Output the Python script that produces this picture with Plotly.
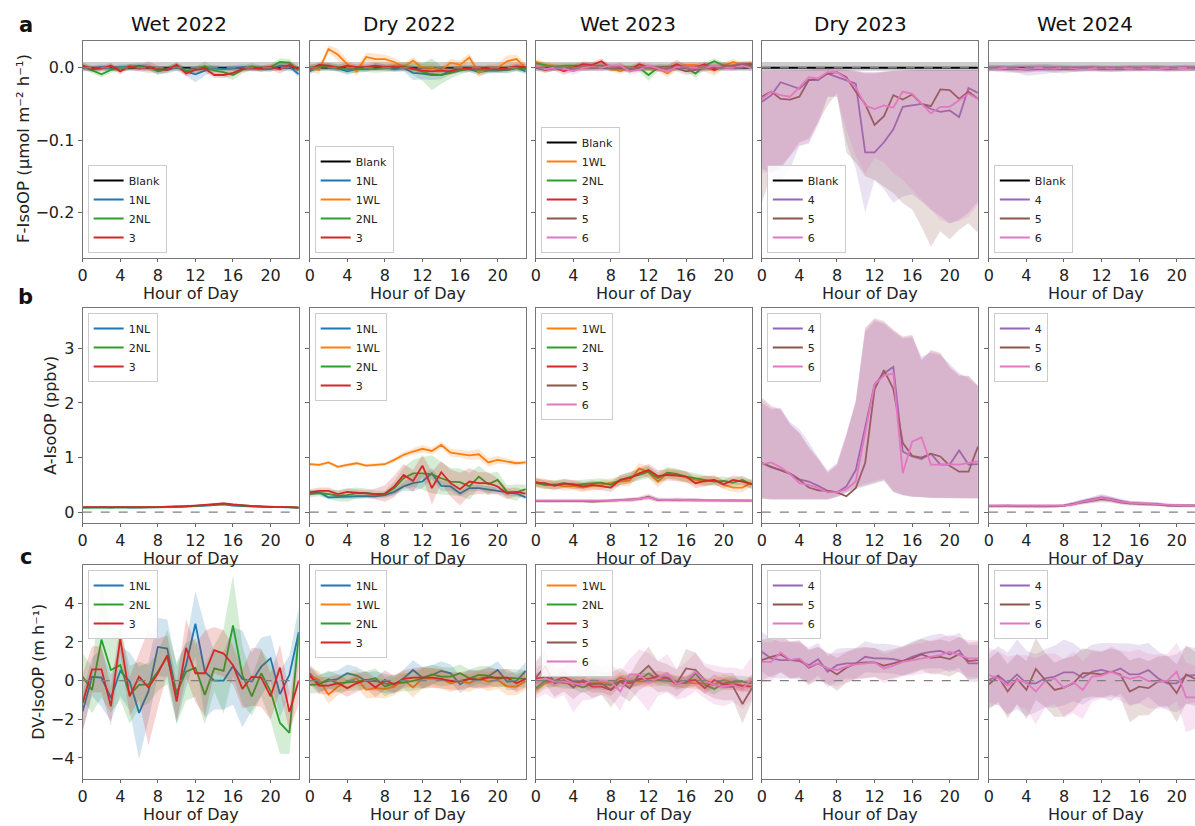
import plotly.graph_objects as go

W, H = 1195, 826

# ---------------- data ----------------
titles = ["Wet 2022", "Dry 2022", "Wet 2023", "Dry 2023", "Wet 2024"]
xticks = [0, 4, 8, 12, 16, 20]

blank_mean = [0.0, 0.0, 0.0, 0.0, 0.0, 0.0, 0.0, 0.0, 0.0, 0.0, 0.0, 0.0, 0.0, 0.0, 0.0, 0.0, 0.0, 0.0, 0.0, 0.0, 0.0, 0.0, 0.0, 0.0]
blank_lo = [-0.004, -0.004, -0.004, -0.004, -0.004, -0.004, -0.004, -0.004, -0.004, -0.004, -0.004, -0.004, -0.004, -0.004, -0.004, -0.004, -0.004, -0.004, -0.004, -0.004, -0.004, -0.004, -0.004, -0.004]
blank_hi = [0.008, 0.008, 0.008, 0.008, 0.008, 0.008, 0.008, 0.008, 0.008, 0.008, 0.008, 0.008, 0.008, 0.008, 0.008, 0.008, 0.008, 0.008, 0.008, 0.008, 0.008, 0.008, 0.008, 0.008]

# Row a : F-IsoOP
a_w22_1NL = [0.000,-0.001,0.001,-0.001,0.001,0.001,0.003,0.001,-0.004,-0.003,0.001,-0.005,-0.009,-0.004,-0.001,-0.002,-0.001,0.001,-0.001,-0.002,-0.002,0.003,0.002,-0.009]
a_w22_1NL_sd = [0.004,0.004,0.004,0.003,0.004,0.004,0.004,0.004,0.005,0.005,0.005,0.006,0.011,0.007,0.005,0.004,0.004,0.004,0.004,0.004,0.004,0.004,0.004,0.004]
a_w22_2NL = [0.002,-0.003,-0.009,-0.003,-0.001,0.001,0.001,0.001,-0.005,-0.002,0.003,-0.004,-0.003,0.002,-0.004,-0.006,-0.010,-0.003,0.002,-0.001,0.001,0.008,0.007,-0.004]
a_w22_2NL_sd = [0.004,0.004,0.004,0.004,0.004,0.004,0.004,0.004,0.005,0.004,0.004,0.004,0.004,0.007,0.005,0.006,0.007,0.005,0.005,0.004,0.004,0.005,0.005,0.004]
a_w22_3 = [0.003,-0.002,-0.001,0.003,-0.005,0.002,-0.001,0.001,-0.002,-0.003,0.004,-0.008,-0.003,-0.001,-0.010,-0.010,-0.007,-0.002,0.000,-0.001,0.001,-0.002,0.004,-0.002]
a_w22_3_sd = [0.005,0.004,0.004,0.004,0.004,0.004,0.004,0.008,0.005,0.004,0.004,0.004,0.004,0.005,0.004,0.004,0.004,0.004,0.004,0.004,0.004,0.006,0.005,0.004]

a_d22_1NL = [-0.005,0.002,0.001,-0.001,-0.005,-0.002,-0.002,0.002,0.001,-0.002,0.000,-0.007,-0.008,-0.010,-0.010,-0.004,-0.003,-0.002,-0.006,-0.004,-0.004,-0.003,0.000,-0.005]
a_d22_1NL_sd = [0.004,0.004,0.004,0.004,0.005,0.004,0.004,0.004,0.004,0.004,0.005,0.010,0.008,0.007,0.006,0.005,0.004,0.004,0.005,0.004,0.004,0.004,0.004,0.004]
a_d22_1WL = [0.000,-0.003,0.026,0.018,0.005,-0.005,0.015,0.012,0.012,0.008,0.001,0.010,0.000,0.000,-0.003,0.007,0.004,0.014,-0.007,-0.001,0.000,0.009,0.012,0.000]
a_d22_1WL_sd = [0.006,0.006,0.005,0.008,0.006,0.006,0.006,0.007,0.006,0.006,0.005,0.005,0.005,0.005,0.005,0.005,0.006,0.006,0.006,0.005,0.006,0.008,0.006,0.006]
a_d22_2NL = [0.000,0.001,0.002,0.000,-0.002,-0.002,-0.001,-0.002,-0.001,0.000,0.002,-0.002,-0.006,-0.009,-0.010,-0.007,-0.003,-0.001,-0.003,-0.002,-0.002,-0.003,0.000,-0.002]
a_d22_2NL_sd = [0.005,0.005,0.005,0.005,0.006,0.005,0.005,0.005,0.005,0.005,0.006,0.008,0.012,0.022,0.012,0.008,0.006,0.005,0.005,0.005,0.005,0.005,0.005,0.005]
a_d22_3 = [-0.002,0.004,0.003,0.000,0.003,0.001,0.001,0.003,0.001,0.002,0.001,-0.002,-0.004,-0.005,-0.004,-0.005,-0.001,-0.001,0.000,-0.001,-0.002,-0.001,0.002,0.001]
a_d22_3_sd = [0.004,0.004,0.004,0.004,0.004,0.004,0.004,0.004,0.004,0.004,0.004,0.004,0.005,0.005,0.005,0.005,0.004,0.004,0.004,0.004,0.004,0.004,0.004,0.004]

a_w23_1WL = [0.008,0.004,0.003,0.001,0.001,0.000,0.001,0.003,-0.001,-0.005,0.000,0.000,0.000,-0.001,-0.008,0.001,0.004,0.004,0.000,-0.003,0.003,0.008,0.004,0.006]
a_w23_2NL = [0.006,0.003,0.001,0.003,0.003,0.004,0.004,0.003,0.000,-0.001,0.000,0.000,-0.010,0.000,0.000,0.004,0.000,-0.008,0.003,0.009,0.003,0.001,0.001,0.003]
a_w23_3 = [0.003,-0.003,0.000,-0.005,0.000,0.005,0.004,0.009,-0.001,0.003,-0.003,0.005,0.001,-0.001,-0.001,0.005,0.000,0.001,0.005,-0.003,0.003,0.001,0.004,0.005]
a_w23_5 = [0.000,-0.003,0.000,-0.001,-0.001,0.000,0.001,0.001,0.001,0.000,-0.003,0.000,0.000,0.001,0.001,-0.001,-0.005,-0.003,-0.001,0.001,0.001,0.003,0.005,0.004]
a_w23_6 = [0.003,-0.002,0.000,-0.001,-0.005,0.000,0.001,0.000,0.003,0.003,-0.005,-0.003,0.003,-0.001,-0.005,0.001,0.000,0.000,0.000,0.003,0.000,0.000,0.003,-0.001]
a_w23_1WL_sd = [0.004,0.004,0.004,0.004,0.004,0.004,0.004,0.004,0.004,0.004,0.004,0.004,0.004,0.004,0.005,0.004,0.004,0.004,0.005,0.008,0.005,0.004,0.004,0.004]
a_w23_2NL_sd = [0.004,0.004,0.004,0.004,0.004,0.004,0.004,0.004,0.004,0.004,0.004,0.005,0.008,0.005,0.004,0.004,0.005,0.006,0.004,0.004,0.004,0.004,0.004,0.004]
a_w23_3_sd = [0.004,0.004,0.004,0.005,0.004,0.004,0.004,0.004,0.004,0.004,0.004,0.004,0.004,0.004,0.004,0.006,0.004,0.004,0.004,0.004,0.004,0.004,0.004,0.004]
a_w23_5_sd = [0.004,0.004,0.004,0.004,0.004,0.004,0.004,0.004,0.004,0.004,0.004,0.004,0.004,0.004,0.004,0.004,0.005,0.004,0.004,0.004,0.004,0.004,0.004,0.004]
a_w23_6_sd = [0.004,0.004,0.004,0.004,0.005,0.004,0.004,0.004,0.004,0.004,0.005,0.004,0.004,0.004,0.004,0.004,0.004,0.004,0.004,0.004,0.004,0.004,0.004,0.004]

a_d23_4 = [-0.047,-0.038,-0.020,-0.024,-0.029,-0.017,-0.017,-0.008,-0.013,-0.017,-0.022,-0.117,-0.117,-0.103,-0.085,-0.054,-0.052,-0.050,-0.057,-0.061,-0.059,-0.068,-0.028,-0.035]
a_d23_4_lo = [-0.140,-0.145,-0.161,-0.140,-0.108,-0.105,-0.075,-0.040,-0.040,-0.103,-0.140,-0.200,-0.155,-0.168,-0.187,-0.178,-0.175,-0.185,-0.196,-0.205,-0.215,-0.210,-0.200,-0.185]
a_d23_4_hi = [-0.004,-0.004,-0.003,-0.003,-0.003,-0.003,-0.002,-0.002,-0.002,-0.003,-0.004,-0.006,-0.006,-0.005,-0.004,-0.004,-0.003,-0.003,-0.003,-0.003,-0.003,-0.003,-0.003,-0.003]
a_d23_5 = [-0.040,-0.033,-0.043,-0.044,-0.040,-0.017,-0.015,-0.008,-0.006,-0.013,-0.033,-0.050,-0.079,-0.067,-0.038,-0.044,-0.037,-0.050,-0.053,-0.030,-0.031,-0.043,-0.033,-0.043]
a_d23_5_lo = [-0.187,-0.145,-0.140,-0.122,-0.103,-0.098,-0.075,-0.052,-0.035,-0.117,-0.131,-0.150,-0.155,-0.164,-0.173,-0.187,-0.196,-0.220,-0.247,-0.226,-0.237,-0.224,-0.215,-0.228]
a_d23_5_hi = [-0.004,-0.004,-0.004,-0.003,-0.003,-0.003,-0.002,-0.002,-0.002,-0.003,-0.005,-0.008,-0.008,-0.006,-0.004,-0.004,-0.003,-0.003,-0.003,-0.003,-0.003,-0.003,-0.003,-0.003]
a_d23_6 = [-0.043,-0.033,-0.038,-0.040,-0.027,-0.013,-0.015,-0.006,-0.006,-0.015,-0.027,-0.052,-0.057,-0.052,-0.055,-0.033,-0.036,-0.050,-0.063,-0.054,-0.054,-0.045,-0.036,-0.043]
a_d23_6_lo = [-0.145,-0.145,-0.136,-0.122,-0.108,-0.103,-0.080,-0.040,-0.040,-0.085,-0.122,-0.147,-0.124,-0.131,-0.145,-0.155,-0.168,-0.182,-0.196,-0.210,-0.215,-0.212,-0.206,-0.189]
a_d23_6_hi = [-0.004,-0.004,-0.003,-0.003,-0.003,-0.002,-0.002,-0.001,-0.001,-0.003,-0.004,-0.007,-0.007,-0.005,-0.004,-0.004,-0.003,-0.003,-0.003,-0.003,-0.003,-0.003,-0.003,-0.003]

a_w24_4 = [0.000,-0.001,-0.002,-0.001,-0.003,-0.002,-0.002,-0.001,-0.002,-0.001,0.000,-0.001,-0.002,-0.001,-0.002,-0.001,-0.001,0.000,-0.001,-0.001,0.000,-0.001,0.000]
a_w24_4_sd = [0.004,0.004,0.005,0.006,0.008,0.008,0.007,0.006,0.006,0.005,0.004,0.004,0.004,0.004,0.004,0.004,0.004,0.004,0.004,0.004,0.004,0.004,0.004]
a_w24_5 = [-0.001,0.000,-0.001,-0.002,-0.001,-0.001,0.000,-0.002,-0.001,-0.002,-0.001,0.000,-0.001,-0.002,-0.001,0.000,-0.001,-0.001,0.000,-0.002,-0.001,0.000,-0.001]
a_w24_5_sd = [0.004,0.004,0.004,0.005,0.005,0.005,0.005,0.005,0.004,0.004,0.004,0.004,0.004,0.004,0.004,0.004,0.004,0.004,0.004,0.004,0.004,0.004,0.004]
a_w24_6 = [0.000,-0.001,0.000,-0.001,-0.002,0.000,-0.001,-0.001,0.000,-0.001,-0.002,-0.001,0.000,-0.001,0.000,-0.001,0.000,-0.001,-0.001,0.000,-0.001,-0.001,0.000]
a_w24_6_sd = [0.004,0.004,0.004,0.004,0.005,0.004,0.004,0.004,0.004,0.004,0.004,0.004,0.004,0.004,0.004,0.004,0.004,0.004,0.004,0.004,0.004,0.004,0.004]

# Row b : A-IsoOP
b_w22_1NL = [0.08,0.09,0.09,0.08,0.09,0.08,0.08,0.08,0.09,0.09,0.10,0.10,0.11,0.12,0.13,0.14,0.12,0.11,0.10,0.10,0.09,0.09,0.08,0.08]
b_w22_2NL = [0.08,0.08,0.08,0.08,0.08,0.08,0.08,0.08,0.09,0.09,0.09,0.10,0.11,0.12,0.13,0.15,0.13,0.12,0.11,0.10,0.10,0.09,0.09,0.08]
b_w22_3 = [0.09,0.09,0.09,0.08,0.09,0.09,0.08,0.08,0.09,0.10,0.10,0.11,0.12,0.13,0.14,0.16,0.14,0.12,0.11,0.10,0.10,0.09,0.09,0.08]
b_w22_sd = [0.015,0.015,0.015,0.015,0.015,0.015,0.015,0.015,0.015,0.015,0.02,0.02,0.02,0.02,0.025,0.025,0.02,0.02,0.02,0.015,0.015,0.015,0.015,0.015]

b_d22_1NL = [0.36,0.36,0.27,0.28,0.29,0.29,0.29,0.29,0.31,0.37,0.47,0.53,0.56,0.71,0.48,0.47,0.34,0.44,0.44,0.42,0.39,0.36,0.34,0.27]
b_d22_1NL_sd = [0.04,0.04,0.04,0.04,0.04,0.04,0.04,0.04,0.05,0.06,0.08,0.15,0.12,0.10,0.10,0.08,0.06,0.06,0.06,0.06,0.06,0.06,0.05,0.04]
b_d22_1WL = [0.88,0.865,0.91,0.83,0.865,0.895,0.85,0.865,0.877,0.957,1.05,1.11,1.16,1.12,1.23,1.09,1.07,1.04,1.06,0.91,0.957,0.926,0.895,0.91]
b_d22_1WL_sd = [0.03,0.03,0.03,0.03,0.03,0.03,0.03,0.03,0.03,0.04,0.05,0.06,0.07,0.06,0.06,0.07,0.07,0.08,0.09,0.08,0.07,0.05,0.04,0.04]
b_d22_2NL = [0.33,0.35,0.33,0.30,0.31,0.35,0.35,0.33,0.33,0.44,0.62,0.71,0.71,0.69,0.62,0.56,0.55,0.47,0.65,0.51,0.59,0.37,0.36,0.42]
b_d22_2NL_sd = [0.06,0.06,0.08,0.10,0.12,0.10,0.08,0.06,0.06,0.12,0.20,0.25,0.30,0.35,0.30,0.25,0.25,0.25,0.20,0.20,0.15,0.12,0.15,0.08]
b_d22_3 = [0.36,0.39,0.39,0.33,0.37,0.36,0.34,0.33,0.34,0.47,0.68,0.57,0.85,0.44,0.73,0.53,0.42,0.56,0.53,0.53,0.47,0.34,0.37,0.34]
b_d22_3_sd = [0.06,0.06,0.06,0.06,0.06,0.06,0.06,0.10,0.15,0.20,0.20,0.20,0.20,0.30,0.20,0.25,0.30,0.25,0.20,0.20,0.15,0.10,0.08,0.06]

b_w23_1WL = [0.56,0.50,0.51,0.47,0.48,0.45,0.48,0.50,0.54,0.56,0.58,0.80,0.73,0.56,0.71,0.68,0.63,0.59,0.56,0.59,0.50,0.45,0.45,0.54]
b_w23_2NL = [0.53,0.50,0.50,0.53,0.50,0.51,0.53,0.54,0.50,0.59,0.64,0.68,0.74,0.62,0.72,0.70,0.65,0.62,0.58,0.56,0.57,0.54,0.59,0.50]
b_w23_3 = [0.54,0.53,0.48,0.52,0.51,0.47,0.50,0.48,0.45,0.59,0.62,0.71,0.77,0.66,0.68,0.67,0.65,0.53,0.57,0.59,0.51,0.59,0.56,0.51]
b_w23_5 = [0.20,0.20,0.21,0.20,0.20,0.20,0.19,0.20,0.20,0.21,0.22,0.24,0.28,0.22,0.22,0.22,0.21,0.22,0.21,0.21,0.21,0.21,0.21,0.21]
b_w23_6 = [0.21,0.21,0.20,0.21,0.21,0.20,0.20,0.21,0.21,0.22,0.23,0.24,0.27,0.23,0.22,0.23,0.22,0.22,0.21,0.21,0.21,0.21,0.21,0.21]
b_w23_hi_sd = [0.08,0.08,0.08,0.08,0.08,0.08,0.08,0.08,0.08,0.09,0.10,0.10,0.11,0.11,0.10,0.10,0.10,0.09,0.09,0.08,0.08,0.08,0.08,0.08]
b_w23_lo_sd = [0.03,0.03,0.03,0.03,0.03,0.03,0.03,0.03,0.03,0.03,0.04,0.04,0.05,0.04,0.04,0.04,0.04,0.04,0.03,0.03,0.03,0.03,0.03,0.03]

b_d23_4 = [0.90,0.82,0.77,0.71,0.60,0.56,0.48,0.39,0.36,0.47,0.77,1.57,2.34,2.54,2.66,1.11,1.02,0.97,1.07,0.87,0.87,1.13,0.87,0.88]
b_d23_5 = [0.90,0.83,0.77,0.70,0.59,0.45,0.40,0.39,0.36,0.29,0.44,0.90,2.25,2.60,2.26,1.27,1.03,1.00,1.07,1.02,0.85,0.74,0.74,1.20]
b_d23_6 = [0.88,0.91,0.82,0.70,0.53,0.50,0.44,0.36,0.36,0.42,0.56,1.45,2.34,2.50,2.54,0.71,1.29,1.37,0.87,0.87,0.88,0.87,0.90,0.93]
b_d23_4_hi = [2.00,1.88,1.90,1.65,1.52,1.28,1.00,0.76,0.90,1.42,2.00,3.30,3.50,3.45,3.30,3.18,3.20,2.85,2.92,2.88,2.72,2.55,2.45,2.30]
b_d23_5_hi = [2.10,1.95,1.88,1.60,1.45,1.18,0.97,0.72,0.86,1.40,2.05,3.38,3.55,3.50,3.33,3.22,3.25,2.78,2.97,2.92,2.65,2.50,2.50,2.33]
b_d23_6_hi = [2.06,1.91,1.91,1.63,1.45,1.20,0.99,0.74,0.88,1.45,2.03,3.35,3.53,3.47,3.35,3.20,3.23,2.80,2.95,2.90,2.67,2.52,2.49,2.31]
b_d23_4_lo = [0.25,0.23,0.23,0.23,0.23,0.23,0.23,0.23,0.27,0.35,0.42,0.48,0.52,0.57,0.37,0.31,0.28,0.27,0.26,0.25,0.25,0.25,0.25,0.25]
b_d23_5_lo = [0.25,0.23,0.23,0.23,0.23,0.23,0.23,0.23,0.28,0.36,0.44,0.50,0.54,0.59,0.37,0.31,0.28,0.27,0.26,0.25,0.25,0.25,0.25,0.25]
b_d23_6_lo = [0.26,0.24,0.24,0.24,0.24,0.24,0.24,0.24,0.29,0.38,0.46,0.53,0.57,0.62,0.40,0.32,0.29,0.28,0.27,0.26,0.26,0.26,0.26,0.26]

b_w24_4 = [0.11,0.12,0.12,0.11,0.11,0.10,0.10,0.11,0.12,0.15,0.20,0.23,0.27,0.24,0.20,0.17,0.16,0.15,0.15,0.12,0.12,0.12,0.12]
b_w24_5 = [0.11,0.11,0.11,0.11,0.10,0.10,0.10,0.11,0.12,0.15,0.18,0.21,0.24,0.22,0.18,0.16,0.15,0.15,0.14,0.12,0.12,0.12,0.12]
b_w24_6 = [0.12,0.12,0.12,0.11,0.11,0.11,0.11,0.11,0.12,0.14,0.19,0.22,0.26,0.23,0.19,0.17,0.16,0.15,0.15,0.13,0.12,0.12,0.12]
b_w24_sd = [0.03,0.03,0.03,0.03,0.03,0.03,0.03,0.03,0.03,0.04,0.04,0.05,0.06,0.05,0.04,0.04,0.04,0.04,0.03,0.03,0.03,0.03,0.03]

# Row c : DV-IsoOP
c_w22_1NL = [-1.59,0.20,0.15,-0.90,0.50,-0.05,-1.67,-0.56,1.74,1.66,-0.73,0.80,2.94,0.46,0.00,0.00,0.75,0.09,-0.05,0.72,1.15,-0.70,0.29,2.50]
c_w22_1NL_sd = [1.0,1.0,1.5,1.2,1.3,1.5,2.4,1.5,1.5,1.5,1.5,1.2,1.7,2.4,1.5,1.5,2.0,2.5,1.5,1.5,1.2,1.2,1.0,1.3]
c_w22_2NL = [0.20,-0.48,2.12,0.55,0.80,-0.73,-0.22,-0.19,0.46,1.23,-0.65,0.46,0.67,-0.74,0.63,0.50,2.85,0.29,-0.82,0.38,-0.56,-2.19,-2.70,2.30]
c_w22_2NL_sd = [1.2,1.2,3.0,2.2,1.8,1.5,1.2,1.0,1.0,1.4,1.6,1.5,1.5,1.5,1.2,2.2,2.6,1.5,1.0,1.2,1.5,1.6,1.1,1.2]
c_w22_3 = [-1.16,0.58,0.58,-1.33,2.17,-0.82,0.20,-0.36,0.38,1.32,-1.08,1.69,0.38,0.38,1.57,1.40,0.80,-0.43,0.20,0.15,-0.82,0.67,-1.62,0.00]
c_w22_3_sd = [1.5,1.2,1.2,1.0,0.8,1.0,1.2,3.0,1.8,1.0,1.0,1.5,1.5,2.2,1.2,1.2,1.0,1.0,1.5,1.5,1.2,1.2,1.0,1.2]

c_d22_1NL = [0.38,-0.14,-0.02,0.09,0.38,0.26,-0.02,-0.02,-0.14,-0.22,0.12,0.55,0.15,0.29,0.50,0.38,-0.19,0.12,0.09,0.21,0.55,-0.05,-0.02,0.50]
c_d22_1WL = [0.26,0.03,-0.73,-0.31,-0.05,0.12,-0.48,-0.39,-0.43,-0.31,0.03,-0.36,0.12,0.12,0.09,-0.14,-0.02,-0.14,0.12,-0.05,0.03,-0.31,-0.31,-0.02]
c_d22_2NL = [-0.22,-0.19,0.07,-0.14,-0.09,-0.05,0.03,0.12,-0.31,-0.14,-0.10,-0.02,0.12,0.32,0.21,0.21,0.38,0.12,0.29,0.26,0.09,0.15,0.12,0.09]
c_d22_3 = [0.26,-0.26,-0.26,-0.14,-0.39,-0.14,0.03,-0.36,0.03,-0.19,0.09,0.15,0.15,0.15,0.09,-0.02,-0.02,0.09,0.03,0.15,0.15,0.15,-0.14,0.09]
c_d22_sd = [0.45,0.45,0.45,0.45,0.45,0.45,0.45,0.50,0.50,0.45,0.45,0.50,0.55,0.50,0.50,0.45,0.45,0.45,0.45,0.50,0.45,0.45,0.45,0.45]

c_w23_1WL = [-0.48,-0.14,-0.02,-0.14,-0.14,-0.05,-0.14,-0.05,-0.14,0.15,-0.02,-0.02,-0.05,0.03,0.15,-0.05,-0.09,-0.14,-0.14,-0.22,0.03,-0.09,-0.31,-0.02]
c_w23_2NL = [-0.39,-0.02,-0.02,-0.05,-0.14,-0.36,-0.14,-0.19,-0.22,-0.02,-0.02,0.03,0.38,0.03,-0.02,-0.05,-0.14,0.38,-0.22,-0.43,-0.14,-0.05,-0.05,-0.14]
c_w23_3 = [0.09,0.21,-0.02,0.19,-0.05,-0.05,-0.31,-0.31,-0.48,-0.02,-0.14,0.09,0.09,0.21,0.12,-0.19,-0.02,0.03,-0.39,0.03,-0.19,-0.19,-0.26,-0.31]
c_w23_5 = [0.15,0.72,-0.14,0.03,-0.36,0.03,-0.19,-0.14,-0.48,-0.05,-0.39,0.32,0.77,0.21,0.15,-0.14,0.63,0.55,0.03,-0.22,-0.31,-0.31,-1.21,-0.39]
c_w23_6 = [-0.14,0.12,-0.05,-0.05,-0.14,-0.22,0.03,-0.02,-0.05,-0.56,0.32,0.32,-0.09,0.12,0.38,-0.19,0.03,0.46,-0.02,-0.22,-0.31,-0.22,-0.43,0.12]
c_w23_sd = [0.30,0.30,0.30,0.30,0.30,0.30,0.30,0.30,0.30,0.30,0.30,0.30,0.30,0.30,0.30,0.30,0.30,0.30,0.30,0.30,0.30,0.30,0.30,0.30]
c_w23_5_sd = [0.8,0.9,0.7,0.6,0.6,0.6,0.7,0.6,0.9,0.7,0.7,0.8,1.0,0.8,0.7,0.7,1.0,0.9,0.7,0.7,0.7,0.7,1.0,0.7]
c_w23_6_sd = [0.8,0.8,0.9,0.7,1.5,0.8,1.0,0.7,0.9,1.0,0.8,1.3,1.5,0.9,1.0,0.8,0.9,1.0,0.9,1.0,1.0,0.9,1.0,1.1]

c_d23_4 = [1.49,1.15,1.06,1.06,1.01,0.80,1.11,0.46,0.80,0.89,0.89,1.23,1.15,1.15,1.11,1.01,1.23,1.40,1.49,1.54,1.35,1.57,0.89,0.89]
c_d23_5 = [1.06,1.23,1.35,1.06,1.11,0.67,0.89,0.63,0.32,0.67,0.89,0.94,0.94,0.77,0.89,1.01,1.15,1.35,1.18,1.23,1.11,1.37,1.01,1.06]
c_d23_6 = [0.97,0.97,1.45,1.06,1.15,0.72,0.89,0.63,0.55,0.72,0.84,0.89,0.94,0.63,0.77,0.97,1.06,1.15,1.23,1.32,1.49,1.32,1.15,1.15]
c_d23_sd = [1.05,1.00,0.95,0.95,0.95,0.90,0.85,0.80,0.85,0.80,0.80,0.80,0.75,0.75,0.75,0.75,0.80,0.80,0.85,0.90,0.90,0.90,0.95,0.95]

c_w24_4 = [0.03,0.26,-0.14,0.32,-0.14,-0.14,0.12,0.21,0.43,0.43,0.15,0.46,0.55,0.43,0.63,0.32,0.34,0.55,0.12,-0.14,-0.14,0.26,0.29]
c_w24_5 = [-0.19,0.21,-0.56,0.09,-0.48,0.60,0.03,-0.48,-0.36,-0.14,0.38,0.38,0.32,0.46,0.32,-0.56,-0.31,-0.39,-0.05,-0.02,-0.65,0.32,0.09]
c_w24_6 = [0.29,0.12,-0.26,0.03,-0.09,-0.56,-0.02,0.12,-0.39,-0.09,-0.48,0.21,0.26,0.46,0.26,0.09,0.21,-0.02,-0.05,-0.02,0.46,-0.87,-0.87]
c_w24_4_sd = [1.4,1.5,1.6,1.8,1.7,1.5,1.5,1.6,1.7,1.5,1.4,1.4,1.4,1.5,1.3,1.6,1.5,1.4,1.4,1.4,1.5,1.5,1.4]
c_w24_5_sd = [1.3,1.3,1.4,1.3,1.5,1.6,1.4,1.4,1.5,1.4,1.3,1.2,1.2,1.2,1.2,1.6,1.5,1.4,1.3,1.3,1.5,1.5,1.4]
c_w24_6_sd = [1.4,1.4,1.5,1.3,1.4,1.7,1.4,1.3,1.5,1.6,1.5,1.3,1.2,1.3,1.3,1.4,1.4,1.4,1.4,1.4,1.5,1.8,1.6]

# ---------------- styling ----------------
COLORS = {"Blank": (0, 0, 0), "1NL": (31, 119, 180), "1WL": (255, 127, 14), "2NL": (44, 160, 44),
          "3": (214, 39, 40), "4": (148, 103, 189), "5": (140, 86, 75), "6": (227, 119, 194)}
FONT = "DejaVu Sans"
COL_PX = [(78, 295), (306, 523), (533, 750), (760, 977), (988, 1195)]
ROW_PX = [(41, 258), (308, 523), (565, 779)]
XMAX = [23, 23, 23, 23, 21.95]
YRANGE = [(-0.263, 0.037), (-0.2, 3.74), (-5.09, 5.98)]
YTICKS = [[-0.2, -0.1, 0.0], [0, 1, 2, 3], [-4, -2, 0, 2, 4]]
YTITLES = [("F-IsoOP (µmol m⁻² h⁻¹)", 19, 148, 16.5), ("A-IsoOP (ppbv)", 45, 415, 16), ("DV-IsoOP (m h⁻¹)", 33, 672, 16)]
LETTERS = [("a", 21, 25), ("b", 21, 297), ("c", 21, 557)]
TITLE_X = [175, 406, 626, 859, 1085]
HOD_X = [186.5, 414.5, 641.5, 868.5, 1096]
HOD_GAP = 35.5


def band(mean, sd):
    return [m - s for m, s in zip(mean, sd)], [m + s for m, s in zip(mean, sd)]


def S(name, mean, sd=None, lo=None, hi=None):
    if sd is not None:
        lo, hi = band(mean, sd)
    return (name, mean, lo, hi)


BL = ("Blank", blank_mean, blank_lo, blank_hi)
BL23 = ("Blank", blank_mean[:23], blank_lo[:23], blank_hi[:23])

panels = [
    [BL, S("1NL", a_w22_1NL, a_w22_1NL_sd), S("2NL", a_w22_2NL, a_w22_2NL_sd), S("3", a_w22_3, a_w22_3_sd)],
    [BL, S("1NL", a_d22_1NL, a_d22_1NL_sd), S("1WL", a_d22_1WL, a_d22_1WL_sd), S("2NL", a_d22_2NL, a_d22_2NL_sd), S("3", a_d22_3, a_d22_3_sd)],
    [BL, S("1WL", a_w23_1WL, a_w23_1WL_sd), S("2NL", a_w23_2NL, a_w23_2NL_sd), S("3", a_w23_3, a_w23_3_sd), S("5", a_w23_5, a_w23_5_sd), S("6", a_w23_6, a_w23_6_sd)],
    [BL, S("4", a_d23_4, lo=a_d23_4_lo, hi=a_d23_4_hi), S("5", a_d23_5, lo=a_d23_5_lo, hi=a_d23_5_hi), S("6", a_d23_6, lo=a_d23_6_lo, hi=a_d23_6_hi)],
    [BL23, S("4", a_w24_4, a_w24_4_sd), S("5", a_w24_5, a_w24_5_sd), S("6", a_w24_6, a_w24_6_sd)],
    [S("1NL", b_w22_1NL, b_w22_sd), S("2NL", b_w22_2NL, b_w22_sd), S("3", b_w22_3, b_w22_sd)],
    [S("1NL", b_d22_1NL, b_d22_1NL_sd), S("1WL", b_d22_1WL, b_d22_1WL_sd), S("2NL", b_d22_2NL, b_d22_2NL_sd), S("3", b_d22_3, b_d22_3_sd)],
    [S("1WL", b_w23_1WL, b_w23_hi_sd), S("2NL", b_w23_2NL, b_w23_hi_sd), S("3", b_w23_3, b_w23_hi_sd), S("5", b_w23_5, b_w23_lo_sd), S("6", b_w23_6, b_w23_lo_sd)],
    [S("4", b_d23_4, lo=b_d23_4_lo, hi=b_d23_4_hi), S("5", b_d23_5, lo=b_d23_5_lo, hi=b_d23_5_hi), S("6", b_d23_6, lo=b_d23_6_lo, hi=b_d23_6_hi)],
    [S("4", b_w24_4, b_w24_sd), S("5", b_w24_5, b_w24_sd), S("6", b_w24_6, b_w24_sd)],
    [S("1NL", c_w22_1NL, c_w22_1NL_sd), S("2NL", c_w22_2NL, c_w22_2NL_sd), S("3", c_w22_3, c_w22_3_sd)],
    [S("1NL", c_d22_1NL, c_d22_sd), S("1WL", c_d22_1WL, c_d22_sd), S("2NL", c_d22_2NL, c_d22_sd), S("3", c_d22_3, c_d22_sd)],
    [S("1WL", c_w23_1WL, c_w23_sd), S("2NL", c_w23_2NL, c_w23_sd), S("3", c_w23_3, c_w23_sd), S("5", c_w23_5, c_w23_5_sd), S("6", c_w23_6, c_w23_6_sd)],
    [S("4", c_d23_4, c_d23_sd), S("5", c_d23_5, c_d23_sd), S("6", c_d23_6, c_d23_sd)],
    [S("4", c_w24_4, c_w24_4_sd), S("5", c_w24_5, c_w24_5_sd), S("6", c_w24_6, c_w24_6_sd)],
]

fig = go.Figure()
layout = dict(width=W, height=H, margin=dict(l=0, r=0, t=0, b=0), autosize=False,
              paper_bgcolor="white", plot_bgcolor="white", showlegend=True,
              font=dict(family=FONT, color="#222"))
shapes, annotations = [], []


def fx(px):
    return px / W


def fy(py):
    return 1 - py / H


for idx, series in enumerate(panels):
    r, c = divmod(idx, 5)
    k = idx + 1
    sx = "" if k == 1 else str(k)
    xa, ya, lg = "x" + sx, "y" + sx, "legend" + sx
    for name, mean, lo, hi in series:
        rgb = COLORS[name]
        xs = list(range(len(mean)))
        fig.add_trace(go.Scatter(x=xs + xs[::-1], y=list(hi) + list(lo)[::-1], fill="toself",
                                 fillcolor="rgba(%d,%d,%d,0.2)" % rgb, line=dict(width=0),
                                 mode="lines", hoverinfo="skip", showlegend=False, xaxis=xa, yaxis=ya))
        fig.add_trace(go.Scatter(x=xs, y=mean, mode="lines", name=name, legend=lg,
                                 line=dict(color="rgb(%d,%d,%d)" % rgb, width=1.8), xaxis=xa, yaxis=ya))
    x0, x1 = COL_PX[c]
    y0, y1 = ROW_PX[r]
    last = (c == 4)
    layout["xaxis" + sx] = dict(domain=[fx(x0), fx(x1)], range=[0, XMAX[c]], anchor=ya,
                                tickvals=xticks, ticks="outside", ticklen=3, tickcolor="#666",
                                showline=True, linecolor="#777", linewidth=1.3, mirror=True,
                                showgrid=False, zeroline=False, tickfont=dict(size=16, family=FONT, color="#222"))
    layout["yaxis" + sx] = dict(domain=[fy(y1), fy(y0)], range=list(YRANGE[r]), anchor=xa,
                                tickvals=YTICKS[r], ticks="outside", ticklen=4, tickcolor="#666",
                                showline=True, linecolor="#777", linewidth=1.3, mirror=not last,
                                showgrid=False, zeroline=False, showticklabels=(c == 0),
                                tickformat=".1f" if r == 0 else "d",
                                tickfont=dict(size=16, family=FONT, color="#222"))
    shapes.append(dict(type="line", xref=xa + " domain", yref=ya, x0=0, x1=1, y0=0, y1=0,
                       line=dict(color="gray", width=1.3, dash="dash"), layer="above"))
    if r == 0:
        leg = dict(x=fx(x0 + 5), y=fy(y1 - 5), xanchor="left", yanchor="bottom")
    else:
        leg = dict(x=fx(x0 + 5), y=fy(y0 + 5), xanchor="left", yanchor="top")
    leg.update(bgcolor="rgba(255,255,255,0.85)", bordercolor="#cccccc", borderwidth=1,
               font=dict(size=11, family=FONT, color="#222"), itemwidth=30, tracegroupgap=0)
    layout[lg] = leg
    annotations.append(dict(text="Hour of Day", x=fx(HOD_X[c]), y=fy(y1 + HOD_GAP), xref="paper", yref="paper",
                            showarrow=False, xanchor="center", yanchor="middle", borderpad=0,
                            font=dict(size=16, family=FONT, color="#222")))

for c, t in enumerate(titles):
    annotations.append(dict(text=t, x=fx(TITLE_X[c]), y=fy(24), xref="paper", yref="paper", showarrow=False,
                            xanchor="center", yanchor="middle", font=dict(size=20, family=FONT, color="#111")))
for t, px, py, fs in YTITLES:
    annotations.append(dict(text=t, x=fx(px), y=fy(py), xref="paper", yref="paper", showarrow=False,
                            textangle=-90, xanchor="center", yanchor="middle",
                            font=dict(size=fs, family=FONT, color="#222")))
for t, px, py in LETTERS:
    annotations.append(dict(text="<b>%s</b>" % t, x=fx(px), y=fy(py), xref="paper", yref="paper",
                            showarrow=False, xanchor="center", yanchor="middle",
                            font=dict(size=21, family=FONT, color="#111")))

layout["shapes"] = shapes
layout["annotations"] = annotations
fig.update_layout(**layout)
fig.write_html("out.html")
